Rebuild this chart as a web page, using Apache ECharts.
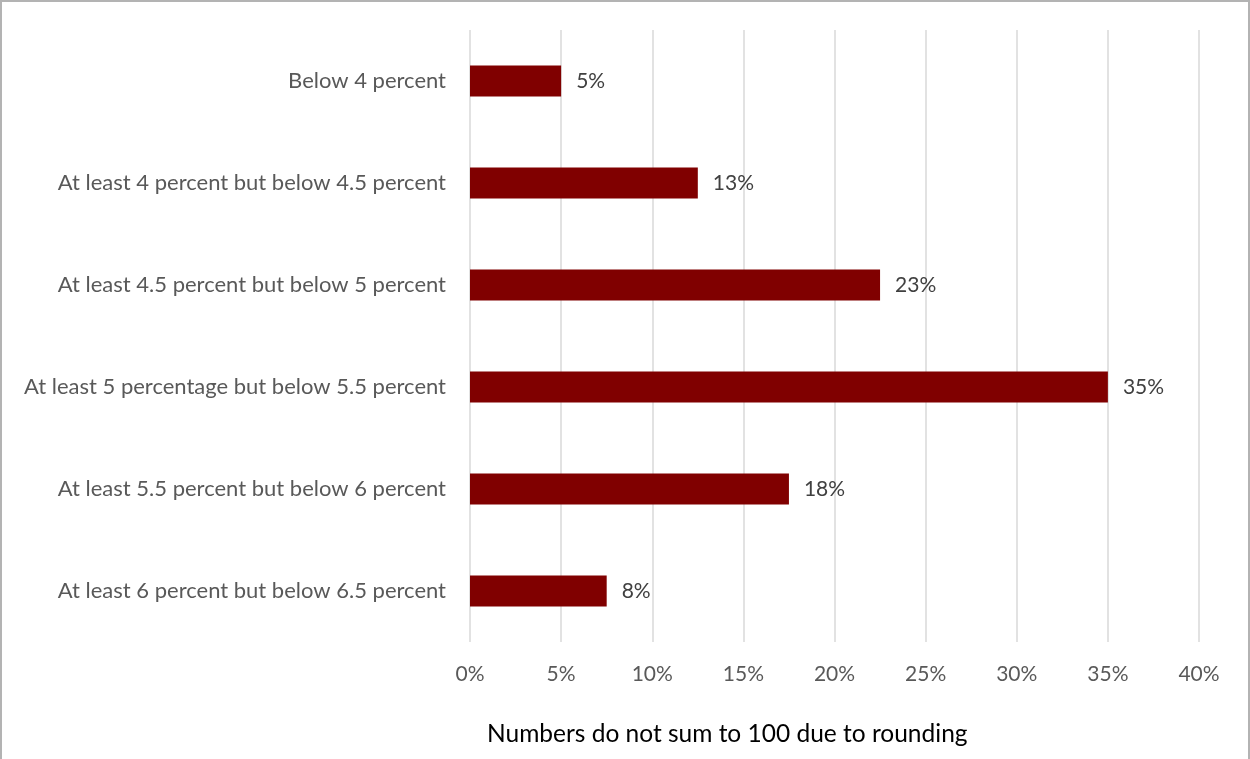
<!DOCTYPE html>
<html>
<head>
<meta charset="utf-8">
<script src="https://cdn.jsdelivr.net/npm/echarts@6/dist/echarts.min.js"></script>
<style>
html,body{margin:0;padding:0;background:#fff;}
#frame{position:absolute;left:0;top:0;width:1250px;height:759px;box-sizing:border-box;border-left:2px solid #b3b3b3;border-top:2px solid #b3b3b3;border-right:2px solid #b3b3b3;}
#chart{position:absolute;left:0;top:0;width:1250px;height:759px;}
</style>
</head>
<body>
<div id="chart"></div>
<div id="frame"></div>
<script>
const categories = [
  "Below 4 percent",
  "At least 4 percent but below 4.5 percent",
  "At least 4.5 percent but below 5 percent",
  "At least 5 percentage but below 5.5 percent",
  "At least 5.5 percent but below 6 percent",
  "At least 6 percent but below 6.5 percent"
];
const values = [5, 12.5, 22.5, 35, 17.5, 7.5];
const valueLabels = ["5%", "13%", "23%", "35%", "18%", "8%"];
const xTicks = [0, 5, 10, 15, 20, 25, 30, 35, 40];
const footnote = "Numbers do not sum to 100 due to rounding";

const chart = echarts.init(document.getElementById('chart'));
chart.setOption({
  animation: false,
  textStyle: { fontFamily: 'Lato' },
  grid: { left: 470, right: 51, top: 30, bottom: 117, containLabel: false },
  xAxis: {
    type: 'value',
    min: xTicks[0],
    max: xTicks[xTicks.length - 1],
    interval: 5,
    axisLine: { show: false },
    axisTick: { show: false },
    splitLine: { show: true, lineStyle: { color: '#d9d9d9', width: 1.5 } },
    axisLabel: { formatter: v => v + '%', color: '#595959', fontSize: 21, margin: 22, fontFamily: 'Lato' }
  },
  yAxis: {
    type: 'category',
    data: categories,
    inverse: true,
    axisLine: { show: false },
    axisTick: { show: false },
    axisLabel: { color: '#595959', fontSize: 22, margin: 24, fontFamily: 'Lato' }
  },
  graphic: [{
    type: 'text',
    left: 487,
    top: 722,
    style: { text: footnote, fill: '#000000', fontSize: 24.5, fontFamily: 'Lato' }
  }],
  series: [{
    type: 'bar',
    data: values,
    barWidth: 31,
    itemStyle: { color: '#800000' },
    label: {
      show: true,
      position: 'right',
      distance: 15,
      color: '#404040',
      fontSize: 21,
      fontFamily: 'Lato',
      formatter: p => valueLabels[p.dataIndex]
    }
  }]
});
</script>
</body>
</html>
